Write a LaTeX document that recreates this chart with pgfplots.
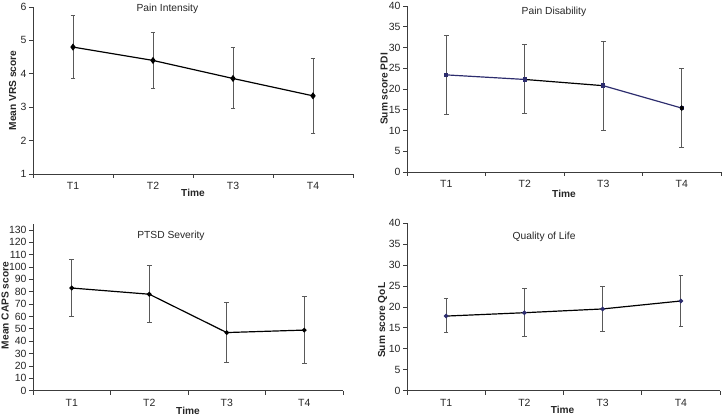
\documentclass[border=0pt]{standalone}
\usepackage{pgfplots}
\pgfplotsset{compat=1.18}
\usepackage{fontspec}
\setmainfont{Liberation Sans}
\definecolor{navyl}{RGB}{45,45,110}
\definecolor{axgray}{RGB}{60,60,60}
\tikzset{ttl/.style={font=\fontsize{10.3}{11}\selectfont, text=black!85}}
\pgfplotsset{
  panel/.style={
    scale only axis,
    anchor=south west,
    axis x line*=bottom, axis y line*=left,
    axis line style={axgray, line width=0.8pt},
    every tick/.style={axgray, line width=0.7pt},
    tick align=outside,
    xmin=0.5, xmax=4.5,
    xtick={1,2,3,4},
    xticklabels={T1,T2,T3,T4},
    major x tick style={draw=none},
    minor xtick={0.5,1.5,2.5,3.5,4.5},
    minor tick length=4bp,
    major tick length=4bp,
    tick label style={font=\fontsize{10.5}{11}\selectfont, text=black!85},
    /pgf/number format/assume math mode=true,
    yticklabel style={xshift=1bp},
    xticklabel style={yshift=-1bp},
    label style={font=\bfseries\fontsize{10.2}{11}\selectfont, text=black!85},
    clip=false,
  },
  eb/.style={
    error bars/.cd, y dir=both, y explicit,
    error bar style={black!65, line width=0.9pt},
    error mark options={black!65, line width=0.9pt, mark size=2.3bp, rotate=90},
  },
}
\begin{document}
\begin{tikzpicture}
\useasboundingbox (0,0) rectangle (722bp,416bp);
% Panel 1: Pain Intensity
\begin{axis}[panel, at={(33bp,242bp)}, width=320bp, height=167bp,
  ymin=1, ymax=6, ytick={1,2,3,4,5,6},
  ylabel={Mean VRS score},
  ylabel style={at={(axis description cs:-0.064,0.5)}, anchor=center, rotate=0},
  xlabel={Time},
  xlabel style={at={(axis description cs:0.5,-0.113)}, anchor=center},
]
\addplot[draw=none, eb] table[x=x,y=y,y error plus=ep,y error minus=em] {
x y ep em
1 4.80 0.95 0.95
2 4.40 0.83 0.83
3 3.86 0.92 0.91
4 3.34 1.13 1.12
};
\addplot[black, line width=1.2pt, mark=diamond*, mark size=2.6bp] coordinates {
  (1,4.80) (2,4.40) (3,3.86) (4,3.34)};
\node[ttl] at (axis description cs:0.42,0.99) {Pain Intensity};
\end{axis}
% Panel 2: Pain Disability
\begin{axis}[panel, at={(407bp,244bp)}, width=314bp, height=166bp,
  ymin=0, ymax=40, ytick={0,5,...,40},
  ylabel={Sum score PDI},
  ylabel style={at={(axis description cs:-0.073,0.5)}, anchor=center, rotate=0},
  xlabel={Time},
  xlabel style={at={(axis description cs:0.5,-0.13)}, anchor=center},
]
\addplot[draw=none, eb] table[x=x,y=y,y error plus=ep,y error minus=em] {
x y ep em
1 23.4 9.5 9.5
2 22.3 8.4 8.3
3 20.8 10.7 10.7
4 15.4 9.5 9.5
};
\addplot[navyl, line width=1.2pt, mark=square*, mark size=1.6bp] coordinates {(1,23.4) (2,22.3)};
\addplot[black, line width=1.2pt, mark=none] coordinates {(2,22.3) (3,20.8)};
\addplot[navyl, line width=1.2pt, mark=square*, mark size=1.6bp] coordinates {(3,20.8) (4,15.4)};
\addplot[only marks, black, mark=diamond*, mark size=2.6bp] coordinates {(4,15.4)};
\node[ttl] at (axis description cs:0.468,0.965) {Pain Disability};
\end{axis}
% Panel 3: PTSD Severity
\begin{axis}[panel, at={(33bp,25.3bp)}, width=310bp, height=167bp,
  ymin=0, ymax=135, ytick={0,10,...,130},
  ylabel={Mean CAPS score},
  ylabel style={at={(axis description cs:-0.09,0.51)}, anchor=center, rotate=0},
  xlabel={Time},
  xlabel style={at={(axis description cs:0.5,-0.122)}, anchor=center},
]
\addplot[draw=none, eb] table[x=x,y=y,y error plus=ep,y error minus=em] {
x y ep em
1 83 23 23
2 78 23 23
3 47 24 24
4 49 27 27
};
\addplot[black, line width=1.2pt, mark=*, mark size=1.7bp] coordinates {(1,83) (2,78) (3,47) (4,49)};
\node[ttl] at (axis description cs:0.445,0.926) {PTSD Severity};
\end{axis}
% Panel 4: Quality of Life
\begin{axis}[panel, at={(407bp,25.3bp)}, width=313bp, height=167.7bp,
  ymin=0, ymax=40, ytick={0,5,...,40},
  ylabel={Sum score QoL},
  ylabel style={at={(axis description cs:-0.078,0.42)}, anchor=center, rotate=0},
  xlabel={Time},
  xlabel style={at={(axis description cs:0.497,-0.117)}, anchor=center},
]
\addplot[draw=none, eb] table[x=x,y=y,y error plus=ep,y error minus=em] {
x y ep em
1 17.8 4.1 4.0
2 18.6 5.7 5.7
3 19.5 5.3 5.4
4 21.4 6.1 6.1
};
\addplot[black, line width=1.2pt, mark=*, mark size=1.7bp, mark options={fill=navyl, draw=navyl}] coordinates {(1,17.8) (2,18.6) (3,19.5) (4,21.4)};
\node[ttl] at (axis description cs:0.438,0.917) {Quality of Life};
\end{axis}
\end{tikzpicture}
\end{document}
